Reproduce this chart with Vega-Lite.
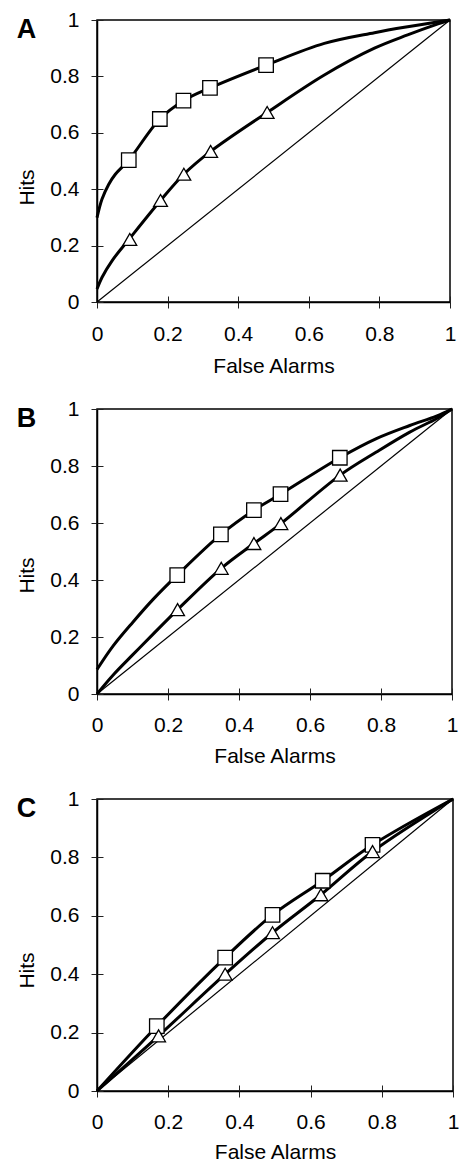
{
  "$schema": "https://vega.github.io/schema/vega-lite/v6.json",
  "padding": {"left": 16, "top": 8, "right": 4, "bottom": 0},
  "background": "white",
  "datasets": {
    "diag": [{"fa": 0, "hits": 0}, {"fa": 1, "hits": 1}],
    "curves": [
      {"panel": "A", "series": "sq", "fa": 0, "hits": 0.299},
      {"panel": "A", "series": "sq", "fa": 0.014, "hits": 0.364},
      {"panel": "A", "series": "sq", "fa": 0.033, "hits": 0.417},
      {"panel": "A", "series": "sq", "fa": 0.052, "hits": 0.453},
      {"panel": "A", "series": "sq", "fa": 0.09, "hits": 0.503},
      {"panel": "A", "series": "sq", "fa": 0.178, "hits": 0.649},
      {"panel": "A", "series": "sq", "fa": 0.245, "hits": 0.714},
      {"panel": "A", "series": "sq", "fa": 0.32, "hits": 0.759},
      {"panel": "A", "series": "sq", "fa": 0.479, "hits": 0.84},
      {"panel": "A", "series": "sq", "fa": 0.644, "hits": 0.917},
      {"panel": "A", "series": "sq", "fa": 0.786, "hits": 0.955},
      {"panel": "A", "series": "sq", "fa": 0.88, "hits": 0.976},
      {"panel": "A", "series": "sq", "fa": 0.985, "hits": 0.997},
      {"panel": "A", "series": "sq", "fa": 1, "hits": 1},
      {"panel": "A", "series": "tri", "fa": 0, "hits": 0.046},
      {"panel": "A", "series": "tri", "fa": 0.014, "hits": 0.087},
      {"panel": "A", "series": "tri", "fa": 0.043, "hits": 0.147},
      {"panel": "A", "series": "tri", "fa": 0.093, "hits": 0.226},
      {"panel": "A", "series": "tri", "fa": 0.18, "hits": 0.36},
      {"panel": "A", "series": "tri", "fa": 0.246, "hits": 0.453},
      {"panel": "A", "series": "tri", "fa": 0.322, "hits": 0.534},
      {"panel": "A", "series": "tri", "fa": 0.482, "hits": 0.672},
      {"panel": "A", "series": "tri", "fa": 0.644, "hits": 0.805},
      {"panel": "A", "series": "tri", "fa": 0.786, "hits": 0.9},
      {"panel": "A", "series": "tri", "fa": 0.88, "hits": 0.947},
      {"panel": "A", "series": "tri", "fa": 0.966, "hits": 0.986},
      {"panel": "A", "series": "tri", "fa": 1, "hits": 1},
      {"panel": "B", "series": "sq", "fa": 0, "hits": 0.086},
      {"panel": "B", "series": "sq", "fa": 0.045, "hits": 0.168},
      {"panel": "B", "series": "sq", "fa": 0.101, "hits": 0.252},
      {"panel": "B", "series": "sq", "fa": 0.158, "hits": 0.332},
      {"panel": "B", "series": "sq", "fa": 0.226, "hits": 0.417},
      {"panel": "B", "series": "sq", "fa": 0.349, "hits": 0.56},
      {"panel": "B", "series": "sq", "fa": 0.442, "hits": 0.645},
      {"panel": "B", "series": "sq", "fa": 0.517, "hits": 0.701},
      {"panel": "B", "series": "sq", "fa": 0.684, "hits": 0.829},
      {"panel": "B", "series": "sq", "fa": 0.787, "hits": 0.896},
      {"panel": "B", "series": "sq", "fa": 0.881, "hits": 0.942},
      {"panel": "B", "series": "sq", "fa": 0.956, "hits": 0.975},
      {"panel": "B", "series": "sq", "fa": 1, "hits": 1},
      {"panel": "B", "series": "tri", "fa": 0, "hits": 0},
      {"panel": "B", "series": "tri", "fa": 0.045, "hits": 0.066},
      {"panel": "B", "series": "tri", "fa": 0.101, "hits": 0.138},
      {"panel": "B", "series": "tri", "fa": 0.158, "hits": 0.21},
      {"panel": "B", "series": "tri", "fa": 0.227, "hits": 0.296},
      {"panel": "B", "series": "tri", "fa": 0.35, "hits": 0.441},
      {"panel": "B", "series": "tri", "fa": 0.442, "hits": 0.528},
      {"panel": "B", "series": "tri", "fa": 0.518, "hits": 0.598},
      {"panel": "B", "series": "tri", "fa": 0.685, "hits": 0.768},
      {"panel": "B", "series": "tri", "fa": 0.787, "hits": 0.849},
      {"panel": "B", "series": "tri", "fa": 0.881, "hits": 0.919},
      {"panel": "B", "series": "tri", "fa": 0.956, "hits": 0.966},
      {"panel": "B", "series": "tri", "fa": 1, "hits": 1},
      {"panel": "C", "series": "sq", "fa": 0, "hits": 0},
      {"panel": "C", "series": "sq", "fa": 0.168, "hits": 0.222},
      {"panel": "C", "series": "sq", "fa": 0.36, "hits": 0.457},
      {"panel": "C", "series": "sq", "fa": 0.493, "hits": 0.603},
      {"panel": "C", "series": "sq", "fa": 0.634, "hits": 0.72},
      {"panel": "C", "series": "sq", "fa": 0.774, "hits": 0.843},
      {"panel": "C", "series": "sq", "fa": 1, "hits": 1},
      {"panel": "C", "series": "tri", "fa": 0, "hits": 0},
      {"panel": "C", "series": "tri", "fa": 0.173, "hits": 0.189},
      {"panel": "C", "series": "tri", "fa": 0.36, "hits": 0.4},
      {"panel": "C", "series": "tri", "fa": 0.493, "hits": 0.542},
      {"panel": "C", "series": "tri", "fa": 0.629, "hits": 0.672},
      {"panel": "C", "series": "tri", "fa": 0.774, "hits": 0.82},
      {"panel": "C", "series": "tri", "fa": 1, "hits": 1}
    ],
    "points": [
      {"panel": "A", "series": "sq", "fa": 0.09, "hits": 0.503},
      {"panel": "A", "series": "sq", "fa": 0.178, "hits": 0.649},
      {"panel": "A", "series": "sq", "fa": 0.245, "hits": 0.714},
      {"panel": "A", "series": "sq", "fa": 0.32, "hits": 0.759},
      {"panel": "A", "series": "sq", "fa": 0.479, "hits": 0.84},
      {"panel": "A", "series": "tri", "fa": 0.093, "hits": 0.222},
      {"panel": "A", "series": "tri", "fa": 0.18, "hits": 0.36},
      {"panel": "A", "series": "tri", "fa": 0.246, "hits": 0.453},
      {"panel": "A", "series": "tri", "fa": 0.322, "hits": 0.534},
      {"panel": "A", "series": "tri", "fa": 0.482, "hits": 0.672},
      {"panel": "B", "series": "sq", "fa": 0.226, "hits": 0.417},
      {"panel": "B", "series": "sq", "fa": 0.349, "hits": 0.56},
      {"panel": "B", "series": "sq", "fa": 0.442, "hits": 0.645},
      {"panel": "B", "series": "sq", "fa": 0.517, "hits": 0.701},
      {"panel": "B", "series": "sq", "fa": 0.684, "hits": 0.829},
      {"panel": "B", "series": "tri", "fa": 0.227, "hits": 0.296},
      {"panel": "B", "series": "tri", "fa": 0.35, "hits": 0.441},
      {"panel": "B", "series": "tri", "fa": 0.442, "hits": 0.528},
      {"panel": "B", "series": "tri", "fa": 0.518, "hits": 0.598},
      {"panel": "B", "series": "tri", "fa": 0.685, "hits": 0.768},
      {"panel": "C", "series": "sq", "fa": 0.168, "hits": 0.222},
      {"panel": "C", "series": "sq", "fa": 0.36, "hits": 0.457},
      {"panel": "C", "series": "sq", "fa": 0.493, "hits": 0.603},
      {"panel": "C", "series": "sq", "fa": 0.634, "hits": 0.72},
      {"panel": "C", "series": "sq", "fa": 0.774, "hits": 0.843},
      {"panel": "C", "series": "tri", "fa": 0.173, "hits": 0.189},
      {"panel": "C", "series": "tri", "fa": 0.36, "hits": 0.4},
      {"panel": "C", "series": "tri", "fa": 0.493, "hits": 0.542},
      {"panel": "C", "series": "tri", "fa": 0.629, "hits": 0.672},
      {"panel": "C", "series": "tri", "fa": 0.774, "hits": 0.82}
    ]
  },
  "spacing": 20,
  "vconcat": [
    {
      "width": 353, "height": 282,
      "title": {"text": "A", "anchor": "start", "frame": "bounds", "offset": -26, "dy": 30, "fontSize": 27, "fontWeight": "bold", "font": "Liberation Sans", "color": "black", "baseline": "alphabetic"},
      "resolve": {"axis": {"x": "independent", "y": "independent"}},
      "layer": [
        {
          "data": {"name": "diag"},
          "mark": {"type": "line", "color": "black", "strokeWidth": 1.2},
          "encoding": {
            "x": {"field": "fa", "type": "quantitative", "scale": {"domain": [0, 1], "nice": false, "zero": false},
              "axis": {"title": "False Alarms", "orient": "bottom", "values": [0, 0.2, 0.4, 0.6, 0.8, 1], "format": "~g", "tickSize": 6, "labelPadding": 15, "titlePadding": 11, "labelFlush": false}},
            "y": {"field": "hits", "type": "quantitative", "scale": {"domain": [0, 1], "nice": false, "zero": false},
              "axis": {"title": "Hits", "orient": "left", "values": [0, 0.2, 0.4, 0.6, 0.8, 1], "format": "~g", "tickSize": 6, "labelPadding": 12, "titlePadding": 12, "titleY": 167, "labelFlush": false}}
          }
        },
        {
          "data": {"name": "curves"},
          "transform": [{"filter": "datum.panel === 'A'"}],
          "mark": {"type": "line", "color": "black", "strokeWidth": 3, "interpolate": "catmull-rom"},
          "encoding": {
            "x": {"field": "fa", "type": "quantitative", "axis": {"title": null, "orient": "bottom", "values": [0, 0.2, 0.4, 0.6, 0.8, 1], "labels": false, "domain": false, "tickSize": 6, "offset": -6}},
            "y": {"field": "hits", "type": "quantitative", "axis": {"title": null, "orient": "left", "values": [0, 0.2, 0.4, 0.6, 0.8, 1], "labels": false, "domain": false, "tickSize": 6, "offset": -6}},
            "detail": {"field": "series"},
            "order": {"field": "fa", "type": "quantitative"}
          }
        },
        {
          "data": {"name": "points"},
          "transform": [{"filter": "datum.panel === 'A'"}],
          "mark": {"type": "point", "filled": true, "fill": "white", "stroke": "black", "strokeWidth": 1.3, "opacity": 1},
          "encoding": {
            "x": {"field": "fa", "type": "quantitative", "axis": null},
            "y": {"field": "hits", "type": "quantitative", "axis": null},
            "shape": {"field": "series", "scale": {"domain": ["sq", "tri"], "range": ["square", "triangle-up"]}, "legend": null},
            "size": {"field": "series", "type": "nominal", "scale": {"domain": ["sq", "tri"], "range": [210, 190]}, "legend": null}
          }
        }
      ]
    },
    {
      "width": 355, "height": 285,
      "title": {"text": "B", "anchor": "start", "frame": "bounds", "offset": -26, "dy": 30, "fontSize": 27, "fontWeight": "bold", "font": "Liberation Sans", "color": "black", "baseline": "alphabetic"},
      "resolve": {"axis": {"x": "independent", "y": "independent"}},
      "layer": [
        {
          "data": {"name": "diag"},
          "mark": {"type": "line", "color": "black", "strokeWidth": 1.2},
          "encoding": {
            "x": {"field": "fa", "type": "quantitative", "scale": {"domain": [0, 1], "nice": false, "zero": false},
              "axis": {"title": "False Alarms", "orient": "bottom", "values": [0, 0.2, 0.4, 0.6, 0.8, 1], "format": "~g", "tickSize": 6, "labelPadding": 14, "titlePadding": 10, "labelFlush": false}},
            "y": {"field": "hits", "type": "quantitative", "scale": {"domain": [0, 1], "nice": false, "zero": false},
              "axis": {"title": "Hits", "orient": "left", "values": [0, 0.2, 0.4, 0.6, 0.8, 1], "format": "~g", "tickSize": 6, "labelPadding": 12, "titlePadding": 12, "titleY": 166, "labelFlush": false}}
          }
        },
        {
          "data": {"name": "curves"},
          "transform": [{"filter": "datum.panel === 'B'"}],
          "mark": {"type": "line", "color": "black", "strokeWidth": 3, "interpolate": "catmull-rom"},
          "encoding": {
            "x": {"field": "fa", "type": "quantitative", "axis": {"title": null, "orient": "bottom", "values": [0, 0.2, 0.4, 0.6, 0.8, 1], "labels": false, "domain": false, "tickSize": 6, "offset": -6}},
            "y": {"field": "hits", "type": "quantitative", "axis": {"title": null, "orient": "left", "values": [0, 0.2, 0.4, 0.6, 0.8, 1], "labels": false, "domain": false, "tickSize": 6, "offset": -6}},
            "detail": {"field": "series"},
            "order": {"field": "fa", "type": "quantitative"}
          }
        },
        {
          "data": {"name": "points"},
          "transform": [{"filter": "datum.panel === 'B'"}],
          "mark": {"type": "point", "filled": true, "fill": "white", "stroke": "black", "strokeWidth": 1.3, "opacity": 1},
          "encoding": {
            "x": {"field": "fa", "type": "quantitative", "axis": null},
            "y": {"field": "hits", "type": "quantitative", "axis": null},
            "shape": {"field": "series", "scale": {"domain": ["sq", "tri"], "range": ["square", "triangle-up"]}, "legend": null},
            "size": {"field": "series", "type": "nominal", "scale": {"domain": ["sq", "tri"], "range": [210, 190]}, "legend": null}
          }
        }
      ]
    },
    {
      "width": 356, "height": 292,
      "title": {"text": "C", "anchor": "start", "frame": "bounds", "offset": -26, "dy": 30, "fontSize": 27, "fontWeight": "bold", "font": "Liberation Sans", "color": "black", "baseline": "alphabetic"},
      "resolve": {"axis": {"x": "independent", "y": "independent"}},
      "layer": [
        {
          "data": {"name": "diag"},
          "mark": {"type": "line", "color": "black", "strokeWidth": 1.2},
          "encoding": {
            "x": {"field": "fa", "type": "quantitative", "scale": {"domain": [0, 1], "nice": false, "zero": false},
              "axis": {"title": "False Alarms", "orient": "bottom", "values": [0, 0.2, 0.4, 0.6, 0.8, 1], "format": "~g", "tickSize": 6, "labelPadding": 14, "titlePadding": 9, "labelFlush": false}},
            "y": {"field": "hits", "type": "quantitative", "scale": {"domain": [0, 1], "nice": false, "zero": false},
              "axis": {"title": "Hits", "orient": "left", "values": [0, 0.2, 0.4, 0.6, 0.8, 1], "format": "~g", "tickSize": 6, "labelPadding": 12, "titlePadding": 12, "titleY": 171, "labelFlush": false}}
          }
        },
        {
          "data": {"name": "curves"},
          "transform": [{"filter": "datum.panel === 'C'"}],
          "mark": {"type": "line", "color": "black", "strokeWidth": 3, "interpolate": "catmull-rom"},
          "encoding": {
            "x": {"field": "fa", "type": "quantitative", "axis": {"title": null, "orient": "bottom", "values": [0, 0.2, 0.4, 0.6, 0.8, 1], "labels": false, "domain": false, "tickSize": 6, "offset": -6}},
            "y": {"field": "hits", "type": "quantitative", "axis": {"title": null, "orient": "left", "values": [0, 0.2, 0.4, 0.6, 0.8, 1], "labels": false, "domain": false, "tickSize": 6, "offset": -6}},
            "detail": {"field": "series"},
            "order": {"field": "fa", "type": "quantitative"}
          }
        },
        {
          "data": {"name": "points"},
          "transform": [{"filter": "datum.panel === 'C'"}],
          "mark": {"type": "point", "filled": true, "fill": "white", "stroke": "black", "strokeWidth": 1.3, "opacity": 1},
          "encoding": {
            "x": {"field": "fa", "type": "quantitative", "axis": null},
            "y": {"field": "hits", "type": "quantitative", "axis": null},
            "shape": {"field": "series", "scale": {"domain": ["sq", "tri"], "range": ["square", "triangle-up"]}, "legend": null},
            "size": {"field": "series", "type": "nominal", "scale": {"domain": ["sq", "tri"], "range": [210, 190]}, "legend": null}
          }
        }
      ]
    }
  ],
  "config": {
    "font": "Liberation Sans",
    "view": {"stroke": "black", "strokeWidth": 1.5},
    "axis": {
      "grid": false,
      "domainColor": "black",
      "domainWidth": 1.5,
      "tickColor": "#222",
      "tickWidth": 1,
      "labelFont": "Liberation Sans",
      "labelFontSize": 21,
      "labelColor": "black",
      "labelOverlap": false,
      "titleFont": "Liberation Sans",
      "titleFontSize": 21,
      "titleFontWeight": "normal",
      "titleColor": "black"
    }
  }
}
